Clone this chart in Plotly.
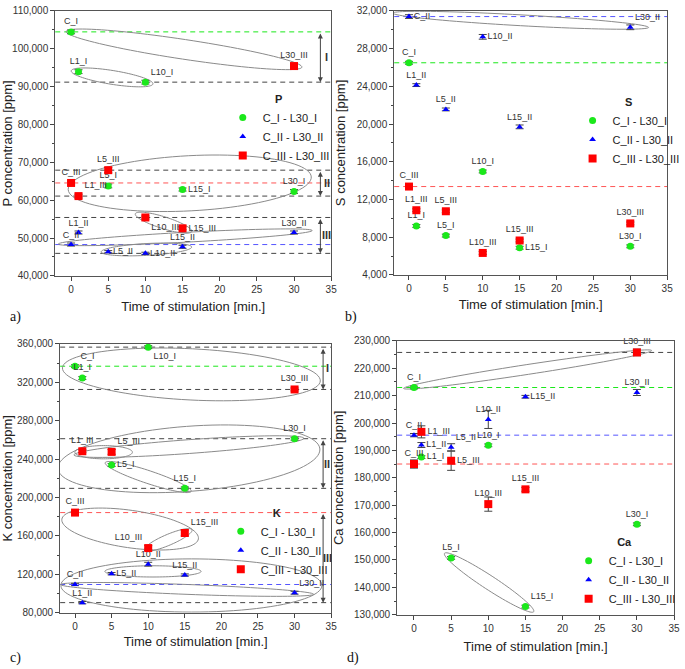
import math
import plotly.graph_objects as go

# ---------------- data ----------------
times = [0, 1, 5, 10, 15, 30]
labels_I = ["C_I", "L1_I", "L5_I", "L10_I", "L15_I", "L30_I"]
labels_II = ["C_II", "L1_II", "L5_II", "L10_II", "L15_II", "L30_II"]
labels_III = ["C_III", "L1_III", "L5_III", "L10_III", "L15_III", "L30_III"]
series_names = ["C_I - L30_I", "C_II - L30_II", "C_III - L30_III"]
x_ticks = [0, 5, 10, 15, 20, 25, 30, 35]

P_I = [104460, 93950, 63760, 91180, 62820, 62300]
P_II = [48280, 51460, 46380, 45950, 47680, 51460]
P_III = [64550, 61080, 67930, 55430, 52570, 95430]
P_err_I = [500, 500, 500, 500, 400, 500]
P_err_II = [400, 400, 300, 300, 400, 400]
P_err_III = [500, 500, 700, 400, 400, 500]

S_I = [26500, 9190, 8170, 14970, 6880, 7030]
S_II = [31400, 24130, 21550, 29250, 19700, 30260]
S_III = [13370, 10860, 10750, 6330, 7650, 9460]
S_err_I = [150, 150, 150, 150, 150, 150]
S_err_II = [200, 150, 150, 250, 200, 250]
S_err_III = [150, 150, 150, 150, 150, 150]

K_I = [336730, 324420, 233850, 356580, 209550, 261230]
K_II = [109430, 90560, 120710, 130560, 119280, 100850]
K_III = [184320, 248200, 247500, 147380, 163070, 312520]
K_err_I = [1500, 1500, 1500, 1500, 1500, 1500]
K_err_II = [1200, 1200, 1200, 2000, 1200, 1500]
K_err_III = [1500, 1500, 2500, 2500, 3000, 1500]

Ca_I = [212980, 187560, 150760, 191870, 132980, 163030]
Ca_II = [195580, 191980, 191150, 201320, 209600, 211160]
Ca_III = [185040, 196790, 186230, 170400, 175790, 225790]
Ca_err_I = [500, 500, 500, 500, 500, 500]
Ca_err_II = [600, 900, 1300, 3300, 500, 1100]
Ca_err_III = [1500, 2200, 3500, 2600, 700, 1200]

# ---------------- style ----------------
W, H = 685, 669
colors = ["#1be81b", "#0000ff", "#ff0000"]
symbols = ["circle", "triangle-up", "square"]
sizes = [7, 6, 8]
FONT = "Liberation Sans, Arial, sans-serif"

pos_a = [["top center", "top center", "top center", "top right", "middle right", "top center"],
         ["top center", "top center", "middle right", "middle right", "top center", "top center"],
         ["top center", "top right", "top center", "bottom right", "middle right", "top center"]]
pos_b = [["top center", "top center", "top center", "top center", "middle right", "top center"],
         ["middle right", "top center", "top center", "middle right", "top center", "top right"],
         ["top center"] * 6]
pos_c = [["top right", "top center", "middle right", "bottom right", "top center", "top center"],
         ["top center", "top center", "middle right", "top center", "top center", "top right"],
         ["top center", "top center", "top right", "top left", "top right", "top center"]]
pos_d = [["top center", "middle right", "top center", "top center", "top right", "top center"],
         ["top center", "middle right", "top right", "top center", "middle right", "top center"],
         ["top center", "middle right", "middle right", "top center", "top center", "top center"]]

panels = [
    dict(el="P", vals=(P_I, P_II, P_III), errs=(P_err_I, P_err_II, P_err_III),
         xr=[-2.13, 35], yr=[40000, 110000], dtick=10000, minor=5000,
         px=(52, 332), py=(6, 275), pos=pos_a, leg=(222, 85), letter=("a)", 4, 317),
         ystand=3, xtitle_stand=8,
         hlines=[(P_I[0], colors[0]), (P_III[0], "#ff5555"), (P_II[0], "#5555ff"),
                 (P_I[3], "#444"), (P_III[2], "#444"), (P_III[1], "#444"),
                 (P_III[3], "#444"), (P_II[3], "#444")],
         brackets=[(P_I[0], P_I[3], "I"), (P_III[2], P_III[1], "II"), (P_III[3], P_II[3], "III")],
         bx=33.55, blx=34.4,
         ellipses=[(15.2, 99850, 121, 10, -8.6), (5.52, 92440, 42, 7, -9.1),
                   (15.97, 64465, 123.5, 28, 3), (12.44, 54060, 30, 6, -17.5),
                   (15.37, 50200, 129, 5, 3.05), (10.14, 46980, 46, 6, 3.1)]),
    dict(el="S", vals=(S_I, S_II, S_III), errs=(S_err_I, S_err_II, S_err_III),
         xr=[-2.0, 35], yr=[4000, 32000], dtick=4000, minor=2000,
         px=(396, 673), py=(6, 274), pos=pos_b, leg=(577, 88), letter=("b)", 344, 317),
         ystand=8, xtitle_stand=6,
         hlines=[(S_II[0], "#5555ff"), (S_I[0], colors[0]), (S_III[0], "#ff5555")],
         brackets=[], bx=0, blx=0,
         ellipses=[(15.14, 31007, 130, 5.5, -3.2)]),
    dict(el="K", vals=(K_I, K_II, K_III), errs=(K_err_I, K_err_II, K_err_III),
         xr=[-2.03, 35], yr=[80000, 360000], dtick=40000, minor=20000,
         px=(57, 332), py=(344, 617), pos=pos_c, leg=(220, 505), letter=("c)", 4, 663),
         ystand=4, xtitle_stand=6,
         hlines=[(K_I[0], colors[0]), (K_III[0], "#ff5555"), (K_II[0], "#5555ff"),
                 (K_I[3], "#444"), (K_III[5], "#444"), (K_I[5], "#444"),
                 (K_I[4], "#444"), (K_II[1], "#444")],
         brackets=[(K_I[3], K_III[5], "I"), (K_I[5], K_I[4], "II"), (K_III[0], K_II[1], "III")],
         bx=33.9, blx=34.5,
         ellipses=[(15.9, 328206, 131, 26, -2.9), (15.56, 240310, 133.3, 33, 4.3),
                   (15.56, 253030, 117, 7, 4.15), (3.91, 247184, 29.2, 6.7, 0),
                   (10.0, 221340, 46, 6.5, -18.4), (7.53, 167190, 70, 19, -8.2),
                   (12.73, 155900, 26.3, 5.5, 23.1), (10.65, 123090, 48.8, 5.7, 0),
                   (15.33, 104320, 128.5, 5, -2.2), (15.9, 108420, 132.5, 27, 0)]),
    dict(el="Ca", vals=(Ca_I, Ca_II, Ca_III), errs=(Ca_err_I, Ca_err_II, Ca_err_III),
         xr=[-2.26, 35], yr=[130000, 230000], dtick=10000, minor=5000,
         px=(399, 680), py=(341, 619), pos=pos_d, leg=(573, 535), letter=("d)", 346, 663),
         ystand=7, xtitle_stand=9,
         hlines=[(Ca_III[5], "#444"), (Ca_I[0], colors[0]), (Ca_II[0], "#5555ff"),
                 (Ca_III[0], "#ff5555")],
         brackets=[], bx=0, blx=0,
         ellipses=[(15.29, 219570, 127.3, 5, 8.7), (10.11, 141770, 54.1, 7, -33.2)]),
]


def ellipse_path(p, cx, cy, a_px, b_px, ang_deg, n=96):
    sx = (p["px"][1] - p["px"][0]) / (p["xr"][1] - p["xr"][0])
    sy = (p["py"][1] - p["py"][0]) / (p["yr"][1] - p["yr"][0])
    th = math.radians(ang_deg)
    pts = []
    for k in range(n):
        t = 2 * math.pi * k / n
        ex = a_px * math.cos(t) * math.cos(th) - b_px * math.sin(t) * math.sin(th)
        ey = a_px * math.cos(t) * math.sin(th) + b_px * math.sin(t) * math.cos(th)
        pts.append((cx + ex / sx, cy + ey / sy))
    return "M " + " L ".join(f"{x:.4f},{y:.2f}" for x, y in pts) + " Z"


fig = go.Figure()
shapes, annotations = [], []
layout = {}

for i, p in enumerate(panels):
    n = i + 1
    xa = "x" if n == 1 else f"x{n}"
    ya = "y" if n == 1 else f"y{n}"
    lg = "legend" if n == 1 else f"legend{n}"
    labels = (labels_I, labels_II, labels_III)
    for s in range(3):
        fig.add_trace(go.Scatter(
            x=times, y=p["vals"][s], mode="markers+text", text=labels[s],
            textposition=p["pos"][s], textfont=dict(size=9, color="#333", family=FONT),
            marker=dict(color=colors[s], symbol=symbols[s], size=sizes[s], line=dict(width=0)),
            error_y=dict(type="data", array=p["errs"][s], width=4, thickness=1, color="#444"),
            name=series_names[s], xaxis=xa, yaxis=ya, legend=lg, cliponaxis=False,
        ))
    x0, x1 = p["px"]
    ytop, ybot = p["py"]
    xkey = "xaxis" if n == 1 else f"xaxis{n}"
    ykey = "yaxis" if n == 1 else f"yaxis{n}"
    layout[xkey] = dict(
        domain=[x0 / W, x1 / W], range=p["xr"], anchor=ya, tickvals=x_ticks,
        ticks="outside", ticklen=4, tickcolor="#444", showline=True, linecolor="#555",
        linewidth=1, mirror=True, showgrid=False, zeroline=False,
        tickfont=dict(size=10, color="#333", family=FONT),
        title=dict(text="Time of stimulation [min.]", font=dict(size=13, color="#222", family=FONT),
                   standoff=p["xtitle_stand"]),
    )
    layout[ykey] = dict(
        domain=[1 - ybot / H, 1 - ytop / H], range=p["yr"], anchor=xa, dtick=p["dtick"],
        tickformat=",d", ticks="outside", ticklen=4, tickcolor="#444",
        minor=dict(ticks="outside", ticklen=2, dtick=p["minor"], tickcolor="#444"),
        showline=True, linecolor="#555", linewidth=1, mirror=True, showgrid=False, zeroline=False,
        tickfont=dict(size=10, color="#333", family=FONT),
        title=dict(text=f"{p['el']} concentration [ppm]", font=dict(size=13, color="#222", family=FONT),
                   standoff=p["ystand"]),
    )
    layout[lg] = dict(
        x=p["leg"][0] / W, y=1 - p["leg"][1] / H, xanchor="left", yanchor="top",
        bgcolor="rgba(0,0,0,0)", borderwidth=0,
        font=dict(size=11, color="#222", family=FONT),
        title=dict(text=f"<b>{p['el']}</b>", side="top center", font=dict(size=11, family=FONT)),
    )
    for yv, c in p["hlines"]:
        shapes.append(dict(type="line", xref=f"{xa} domain", yref=ya, x0=0, x1=1, y0=yv, y1=yv,
                           line=dict(color=c, width=1, dash="5px,4px"), layer="below"))
    for (cx, cy, a_px, b_px, ang) in p["ellipses"]:
        shapes.append(dict(type="path", xref=xa, yref=ya, path=ellipse_path(p, cx, cy, a_px, b_px, ang),
                           line=dict(color="#8a8a8a", width=1), layer="below"))
    for (yt, yb, lab) in p["brackets"]:
        annotations.append(dict(x=p["bx"], y=yb, ax=p["bx"], ay=yt, xref=xa, yref=ya, axref=xa, ayref=ya,
                                text="", showarrow=True, arrowhead=2, arrowsize=1, arrowwidth=1,
                                arrowside="end+start", arrowcolor="#444", standoff=0, startstandoff=0))
        annotations.append(dict(x=p["blx"], y=(yt + yb) / 2, xref=xa, yref=ya, text=f"<b>{lab}</b>",
                                showarrow=False, font=dict(size=11, color="#333", family=FONT),
                                xanchor="center", yanchor="middle"))
    lt, lx, ly = p["letter"]
    annotations.append(dict(x=lx / W, y=1 - ly / H, xref="paper", yref="paper", text=lt, showarrow=False,
                            xanchor="left", yanchor="middle",
                            font=dict(size=14, color="#111", family="Liberation Serif, Times New Roman, serif")))

fig.update_layout(
    width=W, height=H, margin=dict(l=0, r=0, t=0, b=0), autosize=False,
    paper_bgcolor="white", plot_bgcolor="white", shapes=shapes, annotations=annotations,
    font=dict(family=FONT), **layout,
)
fig.write_html("out.html", config={"displayModeBar": False},
               post_script="document.body.style.margin='0px';document.body.style.overflow='hidden';")
